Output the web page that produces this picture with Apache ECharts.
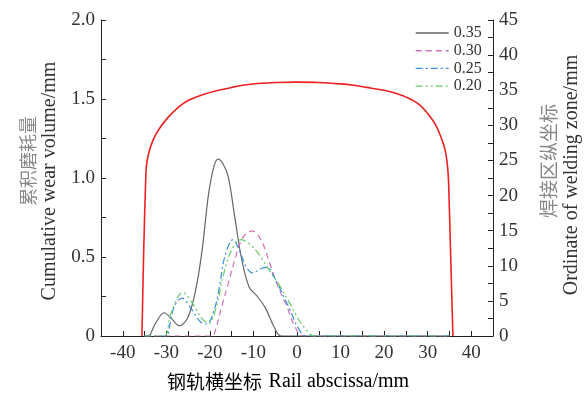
<!DOCTYPE html>
<html>
<head>
<meta charset="utf-8">
<script src="https://cdn.jsdelivr.net/npm/echarts@6/dist/echarts.min.js"></script>
<style>html,body{margin:0;padding:0;background:#fff;}#c{width:584px;height:396px;}</style>
</head>
<body>
<div id="c"></div>
<script>
// Rail profile (right axis)
var redX = [-35.6, -35.2, -34.7, -34.4, -33.6, -32.5, -31.3, -29.5, -27.2, -24.8, -22, -18, -15, -12, -9, -5, 0, 5, 10, 13, 16, 20, 23, 25.5, 28, 30, 31.7, 33, 34, 34.5, 34.8, 35.3, 35.8];
var redY = [0, 12, 23, 25, 27, 28.6, 29.8, 31.2, 32.6, 33.6, 34.3, 35.0, 35.4, 35.75, 35.95, 36.1, 36.15, 36.1, 35.9, 35.7, 35.4, 35.0, 34.5, 33.9, 33.0, 31.7, 30.2, 28.4, 26.5, 24.5, 22.0, 11, 0];

// Cumulative wear (left axis)
var x035 = [-35, -34.2, -32.5, -30.5, -28.8, -27, -25, -23.2, -21.8, -20.3, -19, -18.1, -17, -15.8, -14.3, -12.8, -11, -9.1, -7.2, -5.3, -3.6, 35];
var y035 = [0, 0, 0.08, 0.147, 0.11, 0.065, 0.12, 0.3, 0.54, 0.9, 1.08, 1.12, 1.09, 1.01, 0.755, 0.5, 0.31, 0.25, 0.175, 0.06, 0, 0];

var x030 = [-35, -19.5, -18.8, -17.3, -15.8, -14.3, -12.5, -10.4, -8.3, -6.5, -4.6, -2.3, -0.5, 1.4, 35];
var y030 = [0, 0, 0.03, 0.185, 0.33, 0.48, 0.62, 0.665, 0.61, 0.48, 0.33, 0.185, 0.06, 0, 0];

var x025 = [-35, -30, -29.3, -28.2, -26.4, -24.1, -22.2, -20.7, -18.8, -17.7, -16.6, -14.7, -13.2, -11.7, -10.2, -8, -6.8, -5.3, -3.4, -1.6, 0.3, 2.2, 35];
var y025 = [0, 0, 0.06, 0.185, 0.24, 0.165, 0.09, 0.076, 0.185, 0.33, 0.5, 0.61, 0.54, 0.44, 0.4, 0.43, 0.435, 0.375, 0.27, 0.165, 0.05, 0, 0];

var x020 = [-35, -30.5, -29, -26.2, -23.7, -21.8, -20.3, -18.5, -17, -15.1, -12.8, -10.6, -8.3, -6.1, -3.8, -1.6, 0.7, 2.9, 4, 35];
var y020 = [0, 0, 0.14, 0.275, 0.195, 0.11, 0.08, 0.185, 0.375, 0.54, 0.61, 0.575, 0.5, 0.405, 0.31, 0.205, 0.09, 0.015, 0, 0];

var legendNames = ['0.35', '0.30', '0.25', '0.20'];

function pairs(xs, ys) { return xs.map(function (x, i) { return [x, ys[i]]; }); }

var serif = 'Liberation Serif';
var cjk = 'Noto Sans CJK SC';
var chart = echarts.init(document.getElementById('c'), null, {renderer: 'canvas'});
var wearSeries = [
  {name: legendNames[0], xs: x035, ys: y035, color: '#666666', type: 'solid'},
  {name: legendNames[1], xs: x030, ys: y030, color: '#d070b8', type: [6, 4]},
  {name: legendNames[2], xs: x025, ys: y025, color: '#3a8fe0', type: [7, 3, 2, 3]},
  {name: legendNames[3], xs: x020, ys: y020, color: '#66cc66', type: [7, 3, 2, 3, 2, 3]}
].map(function (s) {
  return {
    name: s.name, type: 'line', yAxisIndex: 0, data: pairs(s.xs, s.ys),
    showSymbol: false, symbol: 'none', smooth: 0.35,
    lineStyle: {color: s.color, width: 1.2, type: s.type},
    itemStyle: {color: s.color},
    z: 3
  };
});

var option = {
  animation: false,
  backgroundColor: '#ffffff',
  grid: {left: 101, right: 91, top: 20, bottom: 60, containLabel: false},
  legend: {
    data: legendNames,
    orient: 'vertical',
    left: 415, top: 25,
    itemWidth: 33, itemHeight: 14, itemGap: 1.7,
    itemStyle: {opacity: 0},
    lineStyle: {width: 1.4},
    textStyle: {fontFamily: serif, fontSize: 16, color: '#333'},
    padding: 0
  },
  xAxis: {
    type: 'value', min: -45, max: 45, interval: 5,
    axisLine: {onZero: false, lineStyle: {color: '#222', width: 1}},
    axisTick: {inside: true, length: 5, lineStyle: {color: '#222'}},
    splitLine: {show: false},
    axisLabel: {
      margin: 8, fontFamily: serif, fontSize: 19, color: '#333',
      formatter: function (v) { return (Math.round(v) % 10 === 0 && Math.abs(v) < 45) ? String(v) : ''; }
    }
  },
  yAxis: [
    {
      type: 'value', min: 0, max: 2.0, interval: 0.5, position: 'left',
      axisLine: {show: true, onZero: false, lineStyle: {color: '#222', width: 1}},
      axisTick: {show: true, inside: true, length: 5, lineStyle: {color: '#222'}},
      minorTick: {show: true, splitNumber: 2, length: 5, lineStyle: {color: '#222'}},
      splitLine: {show: false},
      axisLabel: {margin: 6, fontFamily: serif, fontSize: 19, color: '#333',
        formatter: function (v) { return v === 0 ? '0' : v.toFixed(1); }}
    },
    {
      type: 'value', min: 0, max: 45, interval: 5, position: 'right',
      axisLine: {show: true, onZero: false, lineStyle: {color: '#222', width: 1}},
      axisTick: {show: true, inside: true, length: 5, lineStyle: {color: '#222'}},
      minorTick: {show: true, splitNumber: 2, length: 5, lineStyle: {color: '#222'}},
      splitLine: {show: false},
      axisLabel: {margin: 6, fontFamily: serif, fontSize: 19, color: '#333'}
    }
  ],
  graphic: [
    {type: 'text', x: 28, y: 161, rotation: Math.PI / 2,
      style: {text: '累积磨耗量', font: '18px "' + cjk + '"', fill: '#888', textAlign: 'center', textVerticalAlign: 'middle'}},
    {type: 'text', x: 50, y: 181, rotation: Math.PI / 2,
      style: {text: 'Cumulative wear volume/mm', font: '20px "' + serif + '"', fill: '#333', textAlign: 'center', textVerticalAlign: 'middle'}},
    {type: 'text', x: 549, y: 161, rotation: Math.PI / 2,
      style: {text: '焊接区纵坐标', font: '19px "' + cjk + '"', fill: '#888', textAlign: 'center', textVerticalAlign: 'middle'}},
    {type: 'text', x: 572, y: 175, rotation: Math.PI / 2,
      style: {text: 'Ordinate of welding zone/mm', font: '20px "' + serif + '"', fill: '#333', textAlign: 'center', textVerticalAlign: 'middle'}},
    {type: 'text', x: 288, y: 382,
      style: {
        text: '{a|钢轨横坐标}  {b|Rail abscissa/mm}',
        rich: {
          a: {fontFamily: cjk, fontSize: 19, color: '#888'},
          b: {fontFamily: serif, fontSize: 20, color: '#333'}
        },
        textAlign: 'center', textVerticalAlign: 'middle'
      }}
  ],
  series: wearSeries.concat([{
    name: 'profile', type: 'line', yAxisIndex: 1, data: pairs(redX, redY),
    showSymbol: false, symbol: 'none', smooth: 0.25,
    lineStyle: {color: '#ee2020', width: 1.6},
    itemStyle: {color: '#ee2020'}, z: 4
  }])
};
chart.setOption(option);
</script>
</body>
</html>
